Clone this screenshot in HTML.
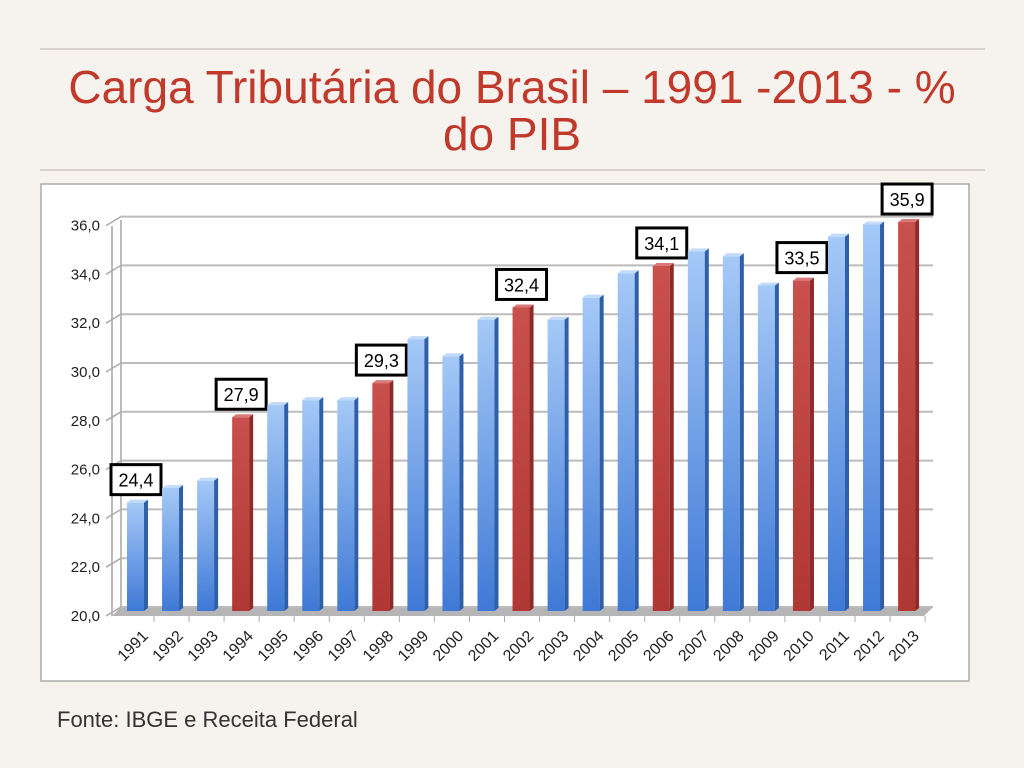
<!DOCTYPE html>
<html><head><meta charset="utf-8"><style>
body{margin:0;width:1024px;height:768px;background:#f6f3ee;font-family:"Liberation Sans",sans-serif;overflow:hidden;position:relative}
.t{position:absolute;left:0;width:1024px;text-align:center;top:64px;font-size:46px;line-height:47px;color:#c0392b}
.hr{position:absolute;left:40px;width:945px;height:2px;background:#d8d3cc}
.f{position:absolute;left:57px;top:707px;font-size:22px;color:#333}
</style></head><body>
<div class="hr" style="top:48px"></div>
<div class="t">Carga Tributária do Brasil – 1991 -2013 - %<br>do PIB</div>
<div class="hr" style="top:169px"></div>
<svg id="c" width="1024" height="768" style="position:absolute;left:0;top:0">
<defs>
<linearGradient id="gb" x1="0" y1="0" x2="0" y2="1"><stop offset="0" stop-color="#a5c9f7"/><stop offset="1" stop-color="#3f79d6"/></linearGradient>
<linearGradient id="gr" x1="0" y1="0" x2="0" y2="1"><stop offset="0" stop-color="#c9504d"/><stop offset="1" stop-color="#b03733"/></linearGradient>
</defs>
<rect x="41" y="184" width="928" height="497" fill="#fff" stroke="#aaa" stroke-width="1.5"/>
</svg>
<div class="f">Fonte: IBGE e Receita Federal</div>
<script>
const years=["1991","1992","1993","1994","1995","1996","1997","1998","1999","2000","2001","2002","2003","2004","2005","2006","2007","2008","2009","2010","2011","2012","2013"];
const values=[24.4,25.0,25.3,27.9,28.4,28.6,28.6,29.3,31.1,30.4,31.9,32.4,31.9,32.8,33.8,34.1,34.7,34.5,33.3,33.5,35.3,35.8,35.9];
const highlighted=["1991","1994","1998","2002","2006","2010","2013"];
const redYears=["1994","1998","2002","2006","2010","2013"];
const ticks=[20,22,24,26,28,30,32,34,36];
const NS="http://www.w3.org/2000/svg",svg=document.getElementById('c');
const y=v=>610-(v-20)*24.4;
const x=i=>137+i*35.05;
function el(t,a,p){const e=document.createElementNS(NS,t);for(const k in a)e.setAttribute(k,a[k]);(p||svg).appendChild(e);return e;}
const fl=el('polygon',{points:"112,616 924,616 933,607 121,607",fill:"#b5b5b5"});

el('line',{x1:121,y1:220,x2:121,y2:607,stroke:"#bbb","stroke-width":2});
el('line',{x1:112,y1:226,x2:112,y2:616,stroke:"#bbb","stroke-width":2});
ticks.forEach(v=>{
  const g=el('line',{x1:121,y1:y(v)-3,x2:933,y2:y(v)-3,stroke:"#bbb","stroke-width":2});
  
  el('line',{x1:106,y1:y(v)+6,x2:121,y2:y(v)-3,stroke:"#aaa","stroke-width":1.5});
  const t=el('text',{x:100,y:y(v)+11,"text-anchor":"end","font-size":15,fill:"#222","font-family":"Liberation Sans, sans-serif"});
  t.textContent=v.toFixed(1).replace('.',',');
  
});
years.forEach((yr,i)=>{
  const red=redYears.includes(yr),cx=x(i),top=y(values[i]);
  const g=el('g',{});
  
  el('rect',{x:cx-10,y:top,width:17,height:611-top,fill:red?"url(#gr)":"url(#gb)"},g);
  el('polygon',{points:`${cx+7},${top} ${cx+11},${top-3} ${cx+11},${608} ${cx+7},${611}`,fill:red?"#8e2a27":"#2f5fa8"},g);
  el('polygon',{points:`${cx-10},${top} ${cx-6},${top-3} ${cx+11},${top-3} ${cx+7},${top}`,fill:red?"#d87a77":"#c3dbfa"},g);
  el('line',{x1:cx+17,y1:616,x2:cx+17,y2:622,stroke:"#aaa"});
  const t=el('text',{transform:`translate(${cx+12},${637}) rotate(-45)`,"text-anchor":"end","font-size":16,fill:"#222","font-family":"Liberation Sans, sans-serif"});
  t.textContent=yr;
  if(highlighted.includes(yr)){
    const b=el('g',{});
    
    el('rect',{x:cx-26,y:top-38,width:50,height:30,fill:"#fff",stroke:"#000","stroke-width":3},b);
    const tt=el('text',{x:cx-1,y:top-16,"text-anchor":"middle","font-size":18,fill:"#000","font-family":"Liberation Sans, sans-serif"},b);
    tt.textContent=values[i].toFixed(1).replace('.',',');
  }
});
</script>
</body></html>
